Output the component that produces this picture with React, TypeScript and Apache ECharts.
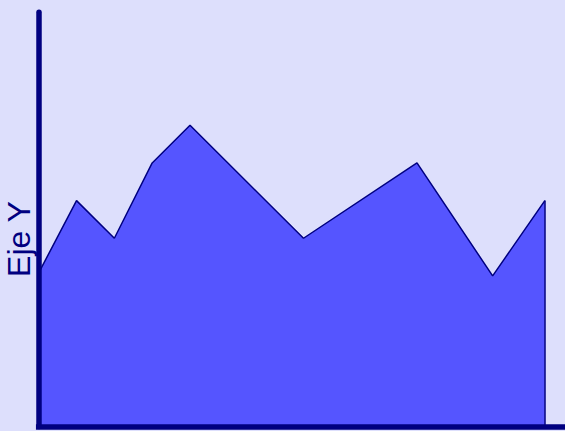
import React, { useEffect, useRef } from "react";
import * as echarts from "echarts";

// Data (x positions are not evenly spaced)
const xValues = [0, 1, 2, 3, 4, 7, 10, 12, 13.38];
const yValues = [4.08, 6, 5, 7, 8, 5, 7, 4, 6];
const yAxisTitle = "Eje Y";

const NAVY = "#000080";
const FILL = "#5555ff";
const BG = "#dddffc";

export default function App() {
  const ref = useRef<HTMLDivElement>(null);

  useEffect(() => {
    if (!ref.current) return;
    const chart = echarts.init(ref.current, undefined, { renderer: "svg" });
    const points = xValues.map((x, i) => [x, yValues[i]]);
    const lastX = xValues[xValues.length - 1];
    const lastY = yValues[yValues.length - 1];

    chart.setOption({
      animation: false,
      backgroundColor: BG,
      grid: {
        left: 38.7,
        right: -3.3,
        top: 12.35,
        bottom: 4.5,
        containLabel: false,
        outerBoundsMode: "none",
      },
      xAxis: {
        type: "value",
        min: 0,
        max: 14,
        z: 10,
        axisLine: {
          show: true,
          onZero: false,
          lineStyle: { color: NAVY, width: 5.5, cap: "square" },
        },
        axisTick: { show: false },
        axisLabel: { show: false },
        splitLine: { show: false },
      },
      yAxis: {
        type: "value",
        min: 0,
        max: 11,
        z: 10,
        axisLine: {
          show: true,
          onZero: false,
          lineStyle: { color: NAVY, width: 5.5, cap: "round" },
        },
        axisTick: { show: false },
        axisLabel: { show: false },
        splitLine: { show: false },
      },
      graphic: [
        {
          type: "text",
          x: 19,
          y: 239,
          rotation: Math.PI / 2,
          style: {
            text: yAxisTitle,
            fontSize: 32,
            fontFamily: "Liberation Sans, Arial, sans-serif",
            fill: NAVY,
            align: "center",
            verticalAlign: "middle",
          },
        },
      ],
      series: [
        {
          type: "line",
          data: points,
          showSymbol: false,
          symbol: "none",
          lineStyle: { color: NAVY, width: 1.5 },
          areaStyle: { color: FILL, opacity: 1 },
          markLine: {
            silent: true,
            symbol: "none",
            label: { show: false },
            lineStyle: { color: NAVY, width: 1.5, type: "solid" },
            data: [[{ coord: [lastX, 0] }, { coord: [lastX, lastY] }]],
          },
        },
      ],
    });

    return () => chart.dispose();
  }, []);

  return (
    <div
      ref={ref}
      style={{ position: "fixed", left: 0, top: 0, width: 565, height: 431 }}
    />
  );
}
